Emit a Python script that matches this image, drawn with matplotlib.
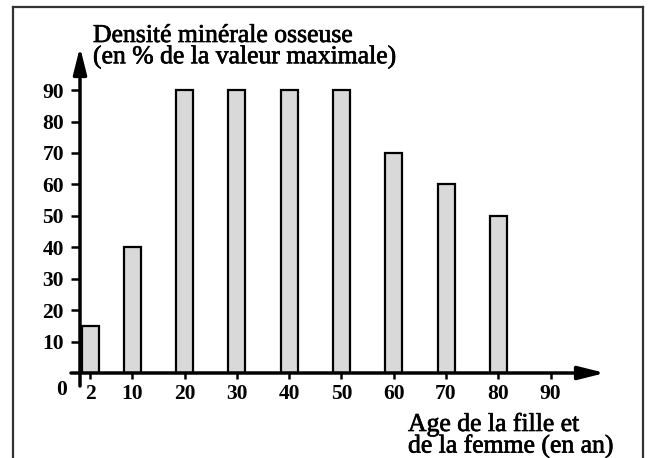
import matplotlib
matplotlib.use('Agg')
import matplotlib.pyplot as plt
import matplotlib.patheffects as pe
from matplotlib.lines import Line2D

ages = [2, 10, 20, 30, 40, 50, 60, 70, 80]
density = [15, 40, 90, 90, 90, 90, 70, 60, 50]
xtick_vals = [2, 10, 20, 30, 40, 50, 60, 70, 80, 90]
ytick_vals = [10, 20, 30, 40, 50, 60, 70, 80, 90]
ylabel_text = "Densité minérale osseuse\n(en % de la valeur maximale)"
xlabel_text = "Age de la fille et\nde la femme (en an)"

plt.rcParams['font.family'] = ['Liberation Serif', 'DejaVu Serif']

W, H = 649, 458
fig = plt.figure(figsize=(W / 100, H / 100), dpi=100)


def fx(px):
    return px / W


def fy(py):
    return 1 - py / H


ax = fig.add_axes([fx(80), fy(373), fx(605) - fx(80), fy(47) - fy(373)])
ax.set_xlim(0, 100.4)
ax.set_ylim(0, 103.7)
ax.bar(ages, density, width=3.25, color='#d9d9d9', edgecolor='black',
       linewidth=1.6, zorder=2)
for s in ax.spines.values():
    s.set_visible(False)
ax.set_xticks(xtick_vals)
ax.set_yticks(ytick_vals)
ax.tick_params(axis='y', direction='out', length=6.5, width=1.8, pad=5)
ax.tick_params(axis='x', direction='out', length=4, width=1.8, pad=4)
for lab in ax.get_xticklabels() + ax.get_yticklabels():
    lab.set_fontsize(15.5)
    lab.set_fontweight('bold')

# axes with arrows
arrow_kw = dict(arrowstyle='-|>,head_length=1.6,head_width=0.4',
                lw=2.5, color='black', mutation_scale=10,
                shrinkA=0, shrinkB=0)
ax.annotate('', xy=(1, 0), xycoords='axes fraction', xytext=(-9 / 525, 0),
            textcoords='axes fraction', arrowprops=arrow_kw,
            annotation_clip=False)
ax.annotate('', xy=(0, 1), xycoords='axes fraction', xytext=(0, -13 / 326),
            textcoords='axes fraction', arrowprops=arrow_kw,
            annotation_clip=False)

thick = [pe.withStroke(linewidth=0.5, foreground='black')]
fig.text(fx(62), fy(390), '0', fontsize=15.5, fontweight='bold',
         ha='center', va='center')
fig.text(fx(93), fy(25), ylabel_text, fontsize=18.5, ha='left', va='top',
         linespacing=0.92, path_effects=thick)
fig.text(fx(408), fy(413), xlabel_text, fontsize=18.5, ha='left', va='top',
         linespacing=0.92, path_effects=thick)

# frame
frame_kw = dict(color='#333333', lw=1.6, transform=fig.transFigure)
fig.add_artist(Line2D([fx(13), fx(643)], [fy(7), fy(7)], **frame_kw))
fig.add_artist(Line2D([fx(13), fx(13)], [fy(7), 0], **frame_kw))
fig.add_artist(Line2D([fx(643), fx(643)], [fy(7), 0], **frame_kw))

fig.savefig('out.png', dpi=100)
